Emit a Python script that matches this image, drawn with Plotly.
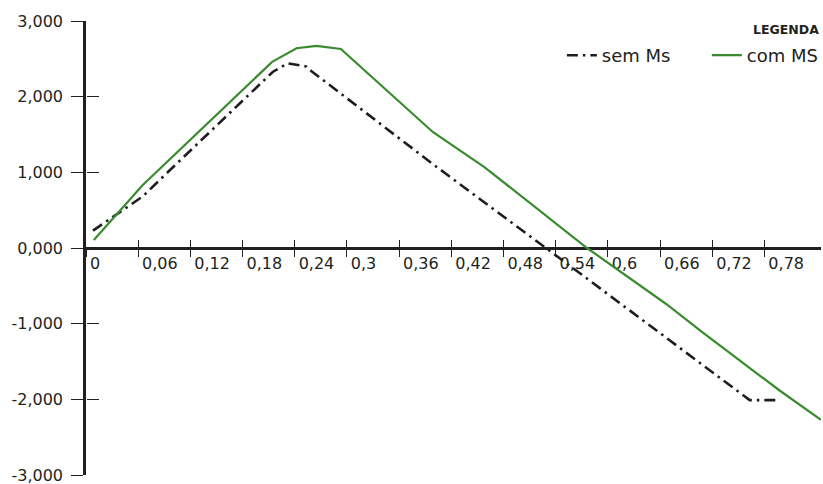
import plotly.graph_objects as go

# ---- data ----
X_SEM = [0.008, 0.065, 0.102, 0.215, 0.232, 0.253, 0.260, 0.401, 0.579, 0.763, 0.793]
Y_SEM = [0.23, 0.68, 1.09, 2.33, 2.44, 2.40, 2.33, 1.09, -0.43, -2.01, -2.01]

X_COM = [0.009, 0.065, 0.214, 0.242, 0.265, 0.293, 0.399, 0.458, 0.576, 0.667, 0.707, 0.797, 0.845]
Y_COM = [0.105, 0.83, 2.46, 2.64, 2.67, 2.63, 1.53, 1.07, 0.0, -0.74, -1.10, -1.88, -2.27]

X_TICK_VALS = [0, 0.06, 0.12, 0.18, 0.24, 0.30, 0.36, 0.42, 0.48, 0.54, 0.60, 0.66, 0.72, 0.78]
X_TICK_LABELS = ["0", "0,06", "0,12", "0,18", "0,24", "0,3", "0,36", "0,42", "0,48",
                 "0,54", "0,6", "0,66", "0,72", "0,78"]
Y_TICK_VALS = [-3, -2, -1, 0, 1, 2, 3]
Y_TICK_LABELS = ["-3,000", "-2,000", "-1,000", "0,000", "1,000", "2,000", "3,000"]

SERIES_NAMES = ["sem Ms", "com MS"]
LEGEND_TITLE = "LEGENDA"

X_RANGE = [0, 0.845]
Y_RANGE = [-3, 3]

AXIS_COLOR = "#231f20"
BLACK = "#1e1e1e"
GREEN = "#3a8a2f"
TICK_FONT = dict(family="DejaVu Sans", size=16, color=AXIS_COLOR)

fig = go.Figure()
fig.add_trace(go.Scatter(x=X_SEM, y=Y_SEM, mode="lines", name=SERIES_NAMES[0],
                         line=dict(color=BLACK, width=2.6, dash="11px,5px,2.5px,5px")))
fig.add_trace(go.Scatter(x=X_COM, y=Y_COM, mode="lines", name=SERIES_NAMES[1],
                         line=dict(color=GREEN, width=2.2)))
# empty trace to host the overlay axes used for the upper / right halves of crossing ticks
fig.add_trace(go.Scatter(x=[], y=[], xaxis="x2", yaxis="y2", showlegend=False,
                         hoverinfo="skip"))

fig.update_layout(
    width=823, height=484,
    margin=dict(l=86, r=2, t=21, b=9, autoexpand=False),
    paper_bgcolor="white", plot_bgcolor="white",
    showlegend=True,
    xaxis=dict(range=X_RANGE, anchor="free", position=0.5, showgrid=False, zeroline=False,
               showline=True, linecolor=AXIS_COLOR, linewidth=2.5,
               tickmode="array", tickvals=X_TICK_VALS, ticktext=X_TICK_LABELS,
               ticks="outside", ticklen=7, tickwidth=1.3, tickcolor=AXIS_COLOR,
               ticklabelposition="outside right", ticklabelshift=2,
               ticklabeloverflow="allow",
               tickfont=TICK_FONT, layer="below traces", fixedrange=True),
    xaxis2=dict(range=X_RANGE, overlaying="x", anchor="free", position=0.5,
                showgrid=False, zeroline=False, showline=False,
                tickmode="array", tickvals=X_TICK_VALS, showticklabels=False,
                ticks="inside", ticklen=8, tickwidth=1.3, tickcolor=AXIS_COLOR,
                layer="below traces"),
    yaxis=dict(range=Y_RANGE, showgrid=False, zeroline=False,
               showline=True, linecolor=AXIS_COLOR, linewidth=2.5,
               tickmode="array", tickvals=Y_TICK_VALS, ticktext=Y_TICK_LABELS,
               ticks="outside", ticklen=12, tickwidth=1.3, tickcolor=AXIS_COLOR,
               ticklabelstandoff=5, ticklabeloverflow="allow",
               tickfont=TICK_FONT, layer="below traces"),
    yaxis2=dict(range=Y_RANGE, overlaying="y", anchor="free", position=0,
                showgrid=False, zeroline=False, showline=False,
                tickmode="array", tickvals=Y_TICK_VALS, showticklabels=False,
                ticks="inside", ticklen=12, tickwidth=1.3, tickcolor=AXIS_COLOR,
                layer="below traces"),
    legend=dict(orientation="h", x=1.042, xanchor="right", y=0.924, yanchor="middle",
                bgcolor="rgba(0,0,0,0)", font=dict(family="DejaVu Sans", size=18, color=AXIS_COLOR),
                entrywidth=100, itemclick=False),
    annotations=[dict(text="<b>" + LEGEND_TITLE + "</b>", xref="paper", yref="paper",
                      x=1, xanchor="right", y=(475 - 29) / 454, yanchor="middle",
                      showarrow=False, font=dict(family="DejaVu Sans", size=12.5, color=AXIS_COLOR))],
)

fig.write_html("out.html", config={"displayModeBar": False},
               post_script="document.body.style.margin='0';")
